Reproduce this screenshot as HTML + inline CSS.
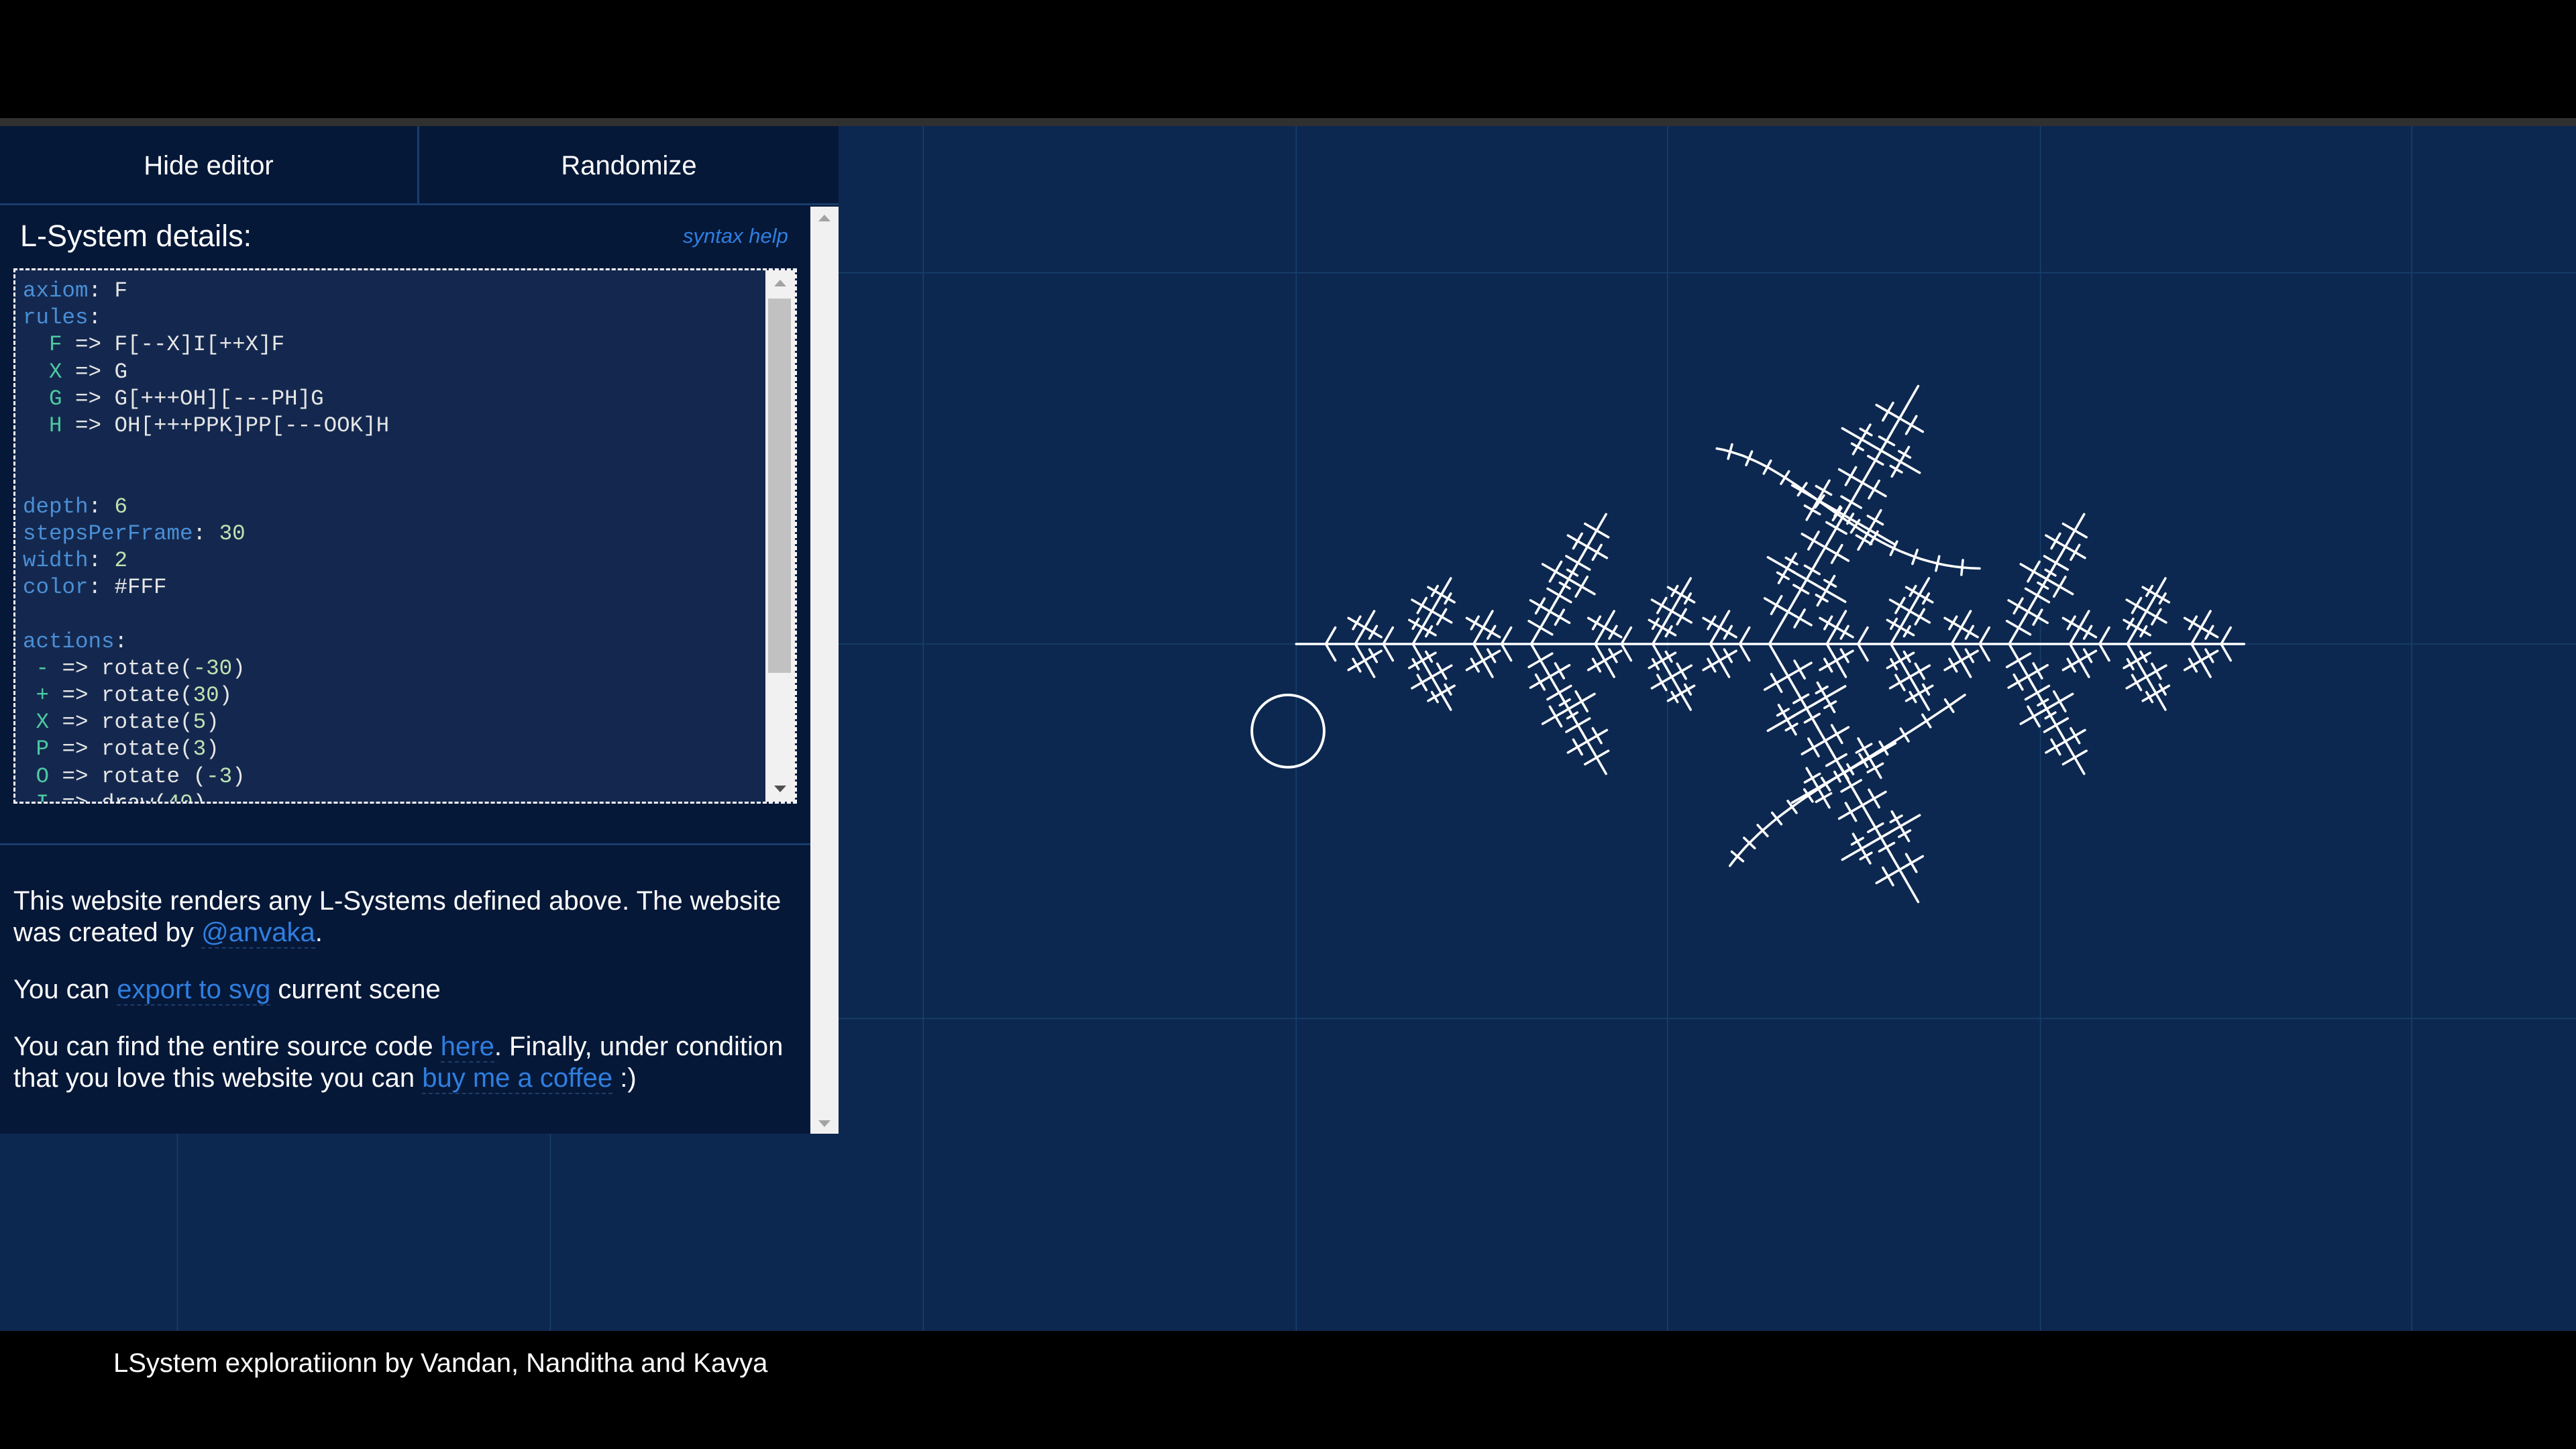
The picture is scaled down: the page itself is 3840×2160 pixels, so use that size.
<!DOCTYPE html>
<html><head><meta charset="utf-8">
<style>
*{margin:0;padding:0;box-sizing:border-box}
html,body{width:3840px;height:2160px;overflow:hidden;background:#000;font-family:"Liberation Sans",sans-serif}
#topbar{position:absolute;left:0;top:0;width:3840px;height:176px;background:#000;z-index:5}
#grayline{position:absolute;left:0;top:176px;width:3840px;height:12px;background:#303030;z-index:5}
#scene{position:absolute;left:0;top:188px;width:3840px;height:1796px;background:#0d2850;overflow:hidden}
#art{position:absolute;left:0;top:0;width:3840px;height:2160px}
#footer{position:absolute;left:0;top:1984px;width:3840px;height:176px;background:#000;color:#fff;font-size:40px;z-index:5}
#footer span{position:absolute;left:169px;top:26px}
#panel{position:absolute;left:0;top:188px;width:1250px;height:1502px;background:#061838;z-index:4}
.btn{position:absolute;top:0;height:118px;color:#fff;font-size:40px;line-height:118px;text-align:center;border-bottom:3px solid #173d6c}
#hide{left:0;width:625px;border-right:3px solid #173d6c}
#rand{left:625px;width:625px}
#scroll{position:absolute;left:1208px;top:120px;width:42px;height:1382px;background:#f1f1f1}
.arr{position:absolute;left:12px;width:0;height:0;border-left:9px solid transparent;border-right:9px solid transparent}
#title{position:absolute;left:30px;top:138px;color:#fff;font-size:45px}
#help{position:absolute;left:1018px;top:146px;color:#2f7fe0;font-size:31px;font-style:italic}
#ta{position:absolute;left:20px;top:212px;width:1168px;height:798px;background:#14284f;border:3px dashed #fff;overflow:hidden}
#code{position:absolute;left:11px;top:11px;font-family:"Liberation Mono",monospace;font-size:32.5px;line-height:40.2px;color:#e6e6e6;white-space:pre}
.k{color:#4a8fd6}.v{color:#bfe3b0}.g{color:#4ec9a0}
#tscroll{position:absolute;right:0;top:0;width:44px;height:792px;background:#f1f1f1}
#thumb{position:absolute;left:4px;top:42px;width:34px;height:558px;background:#c1c1c1}
#sep{position:absolute;left:0;top:1069px;width:1208px;height:3px;background:#173d6c}
#about{position:absolute;left:20px;top:1132px;width:1185px;color:#fff;font-size:40px;line-height:47px}
#about p{margin-bottom:38px}
#about a{color:#2f7fe0;text-decoration:none;border-bottom:2px dashed #1c3d6a}
</style></head>
<body>
<div id="scene"></div>
<svg id="art" viewBox="0 0 1568 882" preserveAspectRatio="none">
<g id="grid"></g>
<g id="frac" stroke="#fff" stroke-width="1.45" fill="none" stroke-linecap="round"></g>
<circle cx="784" cy="445" r="22" fill="none" stroke="#fff" stroke-width="1.6"/>
</svg>
<div id="topbar"></div>
<div id="grayline"></div>
<div id="panel">
  <div class="btn" id="hide">Hide editor</div>
  <div class="btn" id="rand">Randomize</div>
  <div id="title">L-System details:</div>
  <div id="help">syntax help</div>
  <div id="ta">
<div id="code"><span class="k">axiom</span>: F
<span class="k">rules</span>:
  <span class="g">F</span> =&gt; F[--X]I[++X]F
  <span class="g">X</span> =&gt; G
  <span class="g">G</span> =&gt; G[+++OH][---PH]G
  <span class="g">H</span> =&gt; OH[+++PPK]PP[---OOK]H


<span class="k">depth</span>: <span class="v">6</span>
<span class="k">stepsPerFrame</span>: <span class="v">30</span>
<span class="k">width</span>: <span class="v">2</span>
<span class="k">color</span>: #FFF

<span class="k">actions</span>:
 <span class="g">-</span> =&gt; rotate(<span class="v">-30</span>)
 <span class="g">+</span> =&gt; rotate(<span class="v">30</span>)
 <span class="g">X</span> =&gt; rotate(<span class="v">5</span>)
 <span class="g">P</span> =&gt; rotate(<span class="v">3</span>)
 <span class="g">O</span> =&gt; rotate (<span class="v">-3</span>)
 <span class="g">I</span> =&gt; draw(<span class="v">40</span>)</div>
    <div id="tscroll">
      <div class="arr" style="top:14px;left:13px;border-bottom:10px solid #a3a3a3"></div>
      <div id="thumb"></div>
      <div class="arr" style="top:768px;left:13px;border-top:10px solid #505050"></div>
    </div>
  </div>
  <div id="sep"></div>
  <div id="about">
    <p>This website renders any L-Systems defined above. The website was created by <a>@anvaka</a>.</p>
    <p>You can <a>export to svg</a> current scene</p>
    <p>You can find the entire source code <a>here</a>. Finally, under condition that you love this website you can <a>buy me a coffee</a> :)</p>
  </div>
  <div id="scroll">
    <div class="arr" style="top:12px;border-bottom:10px solid #a3a3a3"></div>
    <div class="arr" style="top:1362px;border-top:10px solid #a3a3a3"></div>
  </div>
</div>
<div id="footer"><span>LSystem exploratiionn by Vandan, Nanditha and Kavya</span></div>
<script>
// data (screen units of 1568-wide view)
const mainStart = 789, mainEnd = 1366, mainY = 392;
const treeBaseX = [807,825,842,860,897,914,932,971,987,1006,1041,1059,1077,1112,1131,1151,1188,1205,1223,1260,1278,1295,1334,1352];
const treeUpH =   [10,20,10,40,20,10,79,20,10,40,20,10,157,20,10,40,20,10,79,20,10,40,20,10];
const treeDownH = [10,20,10,40,20,10,79,20,10,40,20,10,157,20,10,40,20,10,79,20,10,40,20,10];
const gridX = [108,335,562,789,1015,1242,1468];
const gridY = [166,392,620];
const arcUp = [[1045,273],[1100,283],[1132,345],[1205,346]];
const arcDown = [[1053,527],[1082,488],[1132,468],[1196,423]];

const svgNS = "http://www.w3.org/2000/svg";
const grid = document.getElementById('grid');
gridX.forEach(x=>{
  const l=document.createElementNS(svgNS,'line');
  
  
  l.setAttribute('x1',x);l.setAttribute('x2',x);l.setAttribute('y1',0);l.setAttribute('y2',882);
  l.setAttribute('stroke','#17406e');l.setAttribute('stroke-width','0.6');
  grid.appendChild(l);
});
gridY.forEach(y=>{
  const l=document.createElementNS(svgNS,'line');
  
  
  l.setAttribute('x1',0);l.setAttribute('x2',1568);l.setAttribute('y1',y);l.setAttribute('y2',y);
  l.setAttribute('stroke','#17406e');l.setAttribute('stroke-width','0.6');
  grid.appendChild(l);
});

const frac = document.getElementById('frac');
function seg(d,x1,y1,x2,y2){return d+'M'+x1.toFixed(1)+' '+y1.toFixed(1)+'L'+x2.toFixed(1)+' '+y2.toFixed(1);}
const R = Math.PI/180;
function hatch(d,cx,cy,ang,half){
  const dx=Math.cos(ang*R),dy=-Math.sin(ang*R);
  d=seg(d,cx-dx*half,cy-dy*half,cx+dx*half,cy+dy*half);
  if(half>9){
    const fr=[-0.5,0,0.5], sz=[0.38,0.5,0.38];
    fr.forEach((f,i)=>{d=hatch(d,cx+dx*half*f,cy+dy*half*f,ang-90,half*sz[i]);});
  }
  return d;
}
function tree(d,bx,by,ang,H){
  const L=H/Math.sin(60*R);
  const dx=Math.cos(ang*R),dy=-Math.sin(ang*R);
  d=seg(d,bx,by,bx+dx*L,by+dy*L);
  const tw = ang>0?ang-90:ang+90;
  if(H>=15){
    let fr,sz;
    if(H<30){fr=[0.5];sz=[0.5];}
    else if(H<60){fr=[0.25,0.5,0.75];sz=[0.2,0.3,0.2];}
    else {fr=[1/8,2/8,3/8,4/8,5/8,6/8,7/8];sz=[0.09,0.15,0.09,0.2,0.09,0.15,0.09];}
    fr.forEach((f,i)=>{d=hatch(d,bx+dx*L*f,by+dy*L*f,tw,L*sz[i]);});
  }
  return d;
}
function addPath(d,name){
  const p=document.createElementNS(svgNS,'path');
  
  
  p.setAttribute('d',d);
  frac.appendChild(p);
}
addPath(seg('',mainStart,mainY,mainEnd,mainY),'main-axis-branch');
treeBaseX.forEach((x,i)=>{
  addPath(tree('',x,mainY,60,treeUpH[i]),'branch-up');
  addPath(tree('',x,mainY,-60,treeDownH[i]),'branch-down');
});
function bez(p,t){const u=1-t;return [0,1].map(k=>u*u*u*p[0][k]+3*u*u*t*p[1][k]+3*u*t*t*p[2][k]+t*t*t*p[3][k]);}
function arc(p,name){
  let d='',pts=[];
  for(let i=0;i<=40;i++)pts.push(bez(p,i/40));
  d+='M'+pts.map(q=>q[0].toFixed(1)+' '+q[1].toFixed(1)).join('L');
  for(let i=2;i<40;i+=3){
    const a=pts[i-1],b=pts[i+1];
    const ang=Math.atan2(-(b[1]-a[1]),b[0]-a[0])/R;
    d=hatch(d,pts[i][0],pts[i][1],ang+90,4.5);
  }
  addPath(d,name);
}
arc(arcUp,'arc-branch-upper');
arc(arcDown,'arc-branch-lower');
</script>
</body></html>
